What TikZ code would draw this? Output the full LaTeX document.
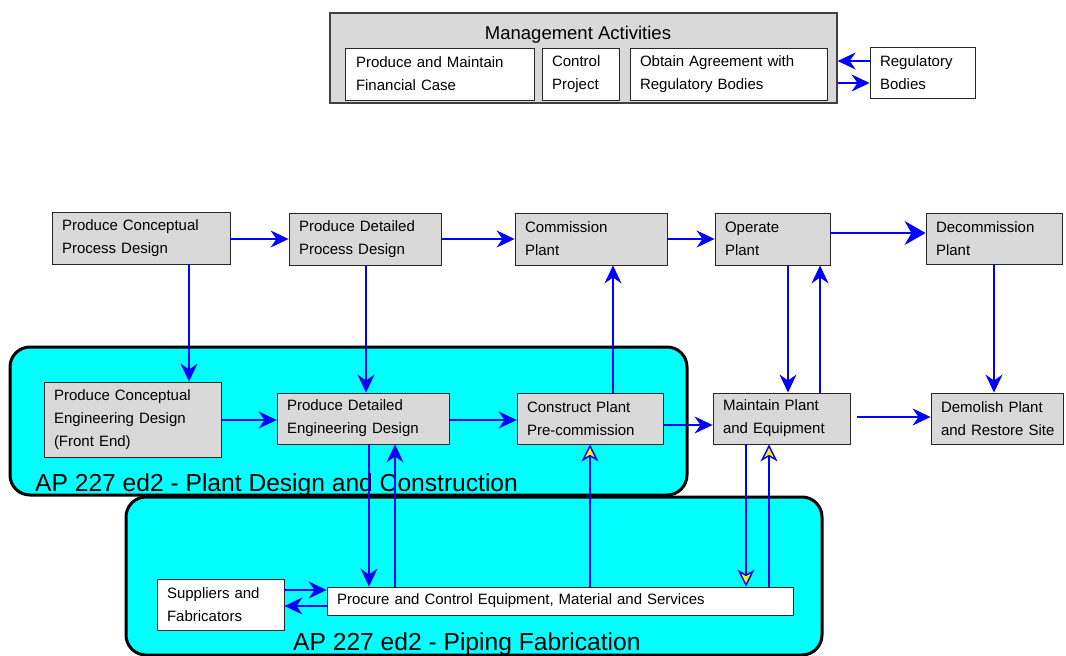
\documentclass[tikz,border=0pt]{standalone}
\usepackage{fontspec}
\setmainfont{Liberation Sans}
\usetikzlibrary{arrows.meta,calc}
\definecolor{boxgray}{HTML}{D9D9D9}
\definecolor{arrblue}{HTML}{0000FF}
\definecolor{regcyan}{HTML}{00FFFF}
\begin{document}
\begin{tikzpicture}[x=1pt,y=-1pt,
  gbox/.style={draw=black!85, fill=boxgray, line width=0.9pt, inner xsep=10pt, inner ysep=0pt,
    align=left, font=\fontsize{15}{23}\selectfont, anchor=center},
  wbox/.style={gbox, fill=white},
  arr/.style={draw=arrblue, line width=1.3pt, -{Stealth[length=18pt,width=17pt,inset=6pt,line width=1pt]}},
  yarr/.style={draw=arrblue, line width=1.3pt, -{Stealth[length=17pt,width=17pt,inset=5pt,line width=1.4pt,fill=yellow]}},
  bigarr/.style={draw=arrblue, line width=1.3pt, -{Stealth[length=21pt,width=24pt,inset=7pt,line width=1pt]}},
  region/.style={draw=black, fill=regcyan, line width=3pt, rounded corners=20pt},
  biglabel/.style={font=\fontsize{24.6}{28}\selectfont, inner sep=0pt}
]
\useasboundingbox (0,0) rectangle (1066,656);

% regions
\draw[region] (10,347) rectangle (687,495);
\draw[region] (126,497) rectangle (822,655);

% management block
\node[draw=black!75, fill=boxgray, line width=1.3pt, minimum width=507pt, minimum height=90pt, inner sep=0pt] (mgmt) at (583.5,58) {};
\node[font=\fontsize{18.5}{22}\selectfont, inner sep=0pt, anchor=base] (mgmtt) at (578,39) {Management Activities};
\node[wbox, minimum width=189pt, minimum height=52pt, text width=167pt] (fin) at (439.5,74) {Produce and Maintain\\Financial Case};
\node[wbox, minimum width=77pt, minimum height=52pt, text width=57pt] (ctrl) at (580.5,74) {Control\\Project};
\node[wbox, minimum width=197pt, minimum height=52pt, text width=177pt] (obt) at (728.5,74) {Obtain Agreement with\\Regulatory Bodies};
\node[wbox, minimum width=105pt, minimum height=51pt, text width=85pt] (reg) at (922.5,72.5) {Regulatory\\Bodies};

% top row
\node[gbox, minimum width=178pt, minimum height=52pt, text width=158pt] (pcpd) at (141,238) {Produce Conceptual\\Process Design};
\node[gbox, minimum width=152pt, minimum height=52pt, text width=132pt] (pdpd) at (365,239) {Produce Detailed\\Process Design};
\node[gbox, minimum width=152pt, minimum height=52pt, text width=132pt] (cp) at (591,239) {Commission\\Plant};
\node[gbox, minimum width=115pt, minimum height=52pt, text width=95pt] (op) at (772.5,239) {Operate\\Plant};
\node[gbox, minimum width=136pt, minimum height=51pt, text width=116pt] (dp) at (994,238.5) {Decommission\\Plant};

% second row
\node[gbox, minimum width=177pt, minimum height=75pt, text width=157pt] (pced) at (132.5,419.5) {Produce Conceptual\\Engineering Design\\(Front End)};
\node[gbox, minimum width=172pt, minimum height=51pt, text width=152pt] (pded) at (363,418.5) {Produce Detailed\\Engineering Design};
\node[gbox, minimum width=146pt, minimum height=51pt, text width=126pt] (cpp) at (590,418.5) {Construct Plant\\Pre-commission};
\node[gbox, minimum width=137pt, minimum height=51pt, text width=117pt] (mpe) at (781.5,418.5) {Maintain Plant\\and Equipment};
\node[gbox, minimum width=132pt, minimum height=51pt, text width=112pt] (dprs) at (997,418.5) {Demolish Plant\\\rlap{and Restore Site}};

% bottom row
\node[wbox, minimum width=127pt, minimum height=51pt, text width=107pt] (sf) at (220.5,604.5) {Suppliers and\\Fabricators};
\node[wbox, minimum width=466pt, minimum height=28pt, text width=446pt] (pce) at (560,601) {Procure and Control Equipment, Material and Services};

% region labels
\node[biglabel, anchor=base west] (lab1) at (35,491) {AP 227 ed2 - Plant Design and Construction};
\node[biglabel, anchor=base west] (lab2) at (293,650) {AP 227 ed2 - Piping Fabrication};

% management arrows
\draw[arr] (reg.west |- 0,61) -- (mgmt.east |- 0,61);
\draw[arr] (mgmt.east |- 0,83) -- (reg.west |- 0,83);

% top row arrows
\draw[arr] (pcpd.east |- 0,239) -- (pdpd.west |- 0,239);
\draw[arr] (pdpd.east |- 0,239) -- (cp.west |- 0,239);
\draw[arr] (cp.east |- 0,239) -- (op.west |- 0,239);
\draw[bigarr] (op.east |- 0,233) -- (dp.west |- 0,233);

% vertical arrows top to second row
\draw[arr] (pcpd.south -| 189,0) -- (pced.north -| 189,0);
\draw[arr] (pdpd.south -| 366,0) -- (pded.north -| 366,0);
\draw[arr] (cpp.north -| 613,0) -- (cp.south -| 613,0);
\draw[arr] (op.south -| 788,0) -- (mpe.north -| 788,0);
\draw[arr] (mpe.north -| 820,0) -- (op.south -| 820,0);
\draw[arr] (dp.south -| 994,0) -- (dprs.north -| 994,0);

% second row arrows
\draw[arr] (pced.east |- 0,420) -- (pded.west |- 0,420);
\draw[arr] (pded.east |- 0,420) -- (cpp.west |- 0,420);
\draw[arr] (cpp.east |- 0,425) -- (mpe.west |- 0,425);
\draw[arr, shorten <=7pt] (mpe.east |- 0,417) -- (dprs.west |- 0,417);

% to/from procurement
\draw[arr] (pded.south -| 369,0) -- (pce.north -| 369,0);
\draw[arr] (pce.north -| 395,0) -- (pded.south -| 395,0);
\draw[yarr] (pce.north -| 590,0) -- (cpp.south -| 590,0);
\draw[yarr] (mpe.south -| 746,0) -- (pce.north -| 746,0);
\draw[yarr] (pce.north -| 769,0) -- (mpe.south -| 769,0);
\draw[arr] (sf.east |- 0,590) -- (pce.west |- 0,590);
\draw[arr] (pce.west |- 0,606) -- (sf.east |- 0,606);
\end{tikzpicture}
\end{document}
